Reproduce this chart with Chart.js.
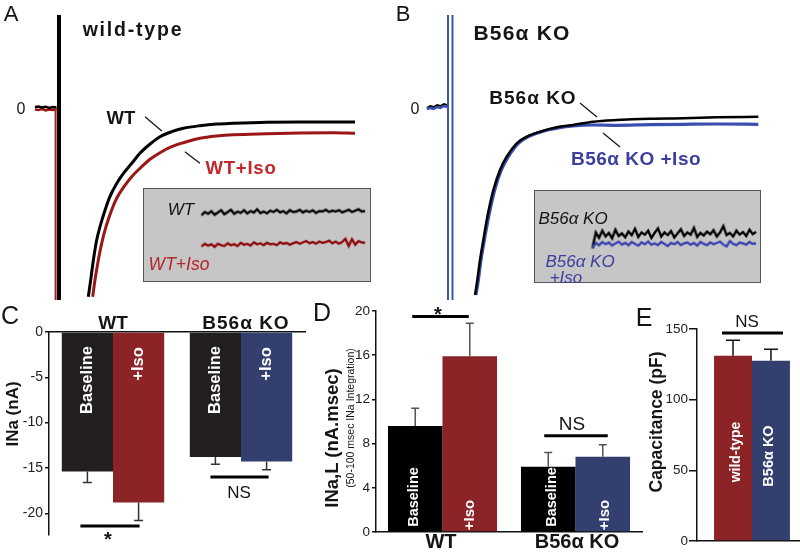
<!DOCTYPE html>
<html><head><meta charset="utf-8">
<script src="https://cdn.jsdelivr.net/npm/chart.js@4/dist/chart.umd.min.js"></script>
<style>
html,body{margin:0;padding:0;background:#fff;width:800px;height:552px;overflow:hidden;position:relative;font-family:"Liberation Sans",Arial,sans-serif;}
canvas{position:absolute;}
.inset{background:#c6c6c6;border:1px solid #555;}
.t{position:absolute;transform:translate(-50%,-50%);white-space:nowrap;line-height:1;color:#151515;}
.rt{position:absolute;transform:translate(-50%,-50%) rotate(-90deg);white-space:nowrap;line-height:1;}
.b{font-weight:bold;}
.i{font-style:italic;}
.w{color:#fff;font-weight:bold;}
</style></head><body>
<canvas id="cA" width="400" height="300" style="left:0;top:0"></canvas>
<canvas id="cB" width="400" height="300" style="left:400px;top:0"></canvas>
<canvas id="cAi" class="inset" width="228" height="94" style="left:143px;top:188px"></canvas>
<canvas id="cBi" class="inset" width="227" height="93" style="left:534px;top:190px"></canvas>
<canvas id="cC" width="310" height="252" style="left:0;top:300px"></canvas>
<canvas id="cD" width="345" height="252" style="left:300px;top:300px"></canvas>
<canvas id="cE" width="210" height="252" style="left:600px;top:300px"></canvas>

<!-- Panel A text -->
<div class="t" style="left:11px;top:14px;font-size:22px">A</div>
<div class="t b" style="left:133px;top:30px;font-size:19.5px;letter-spacing:1.8px">wild-type</div>
<div class="t" style="left:21px;top:109px;font-size:16px">0</div>
<div class="t b" style="left:121px;top:118px;font-size:18.5px">WT</div>
<div class="t b" style="left:241px;top:168px;font-size:18.5px;letter-spacing:0.8px;color:#c1272d">WT+Iso</div>
<div class="t i" style="left:181px;top:209px;font-size:17px">WT</div>
<div class="t i" style="left:179px;top:265px;font-size:17.5px;color:#b3262b">WT+Iso</div>
<!-- Panel B text -->
<div class="t" style="left:403px;top:14px;font-size:22px">B</div>
<div class="t b" style="left:522px;top:32px;font-size:21px;letter-spacing:1.2px">B56α KO</div>
<div class="t" style="left:415px;top:109px;font-size:16px">0</div>
<div class="t b" style="left:533px;top:97px;font-size:19px;letter-spacing:1px">B56α KO</div>
<div class="t b" style="left:636px;top:158px;font-size:19px;letter-spacing:0.5px;color:#3d3f9e">B56α KO +Iso</div>
<div class="t i" style="left:573px;top:218px;font-size:17px">B56α KO</div>
<div class="t i" style="left:580px;top:261px;font-size:17px;color:#3d3f9e">B56α KO</div>
<div class="t i" style="left:566px;top:277px;font-size:17px;color:#3d3f9e">+Iso</div>
<!-- Panel C text -->
<div class="t" style="left:10px;top:315px;font-size:25px">C</div>
<div class="t b" style="left:113px;top:322px;font-size:19px">WT</div>
<div class="t b" style="left:246px;top:322px;font-size:19px;letter-spacing:1px">B56α KO</div>
<div class="rt b" style="left:12px;top:414px;font-size:17px;color:#151515">INa (nA)</div>
<div class="rt w" style="left:86px;top:380px;font-size:16.5px">Baseline</div>
<div class="rt w" style="left:137px;top:364px;font-size:16.5px">+Iso</div>
<div class="rt w" style="left:214px;top:380px;font-size:16.5px">Baseline</div>
<div class="rt w" style="left:265px;top:364px;font-size:16.5px">+Iso</div>
<div class="t b" style="left:108px;top:539px;font-size:20px">*</div>
<div class="t" style="left:239px;top:492px;font-size:17px">NS</div>
<!-- Panel D text -->
<div class="t" style="left:322px;top:312px;font-size:25px">D</div>
<div class="t b" style="left:438px;top:314px;font-size:20px">*</div>
<div class="t" style="left:572px;top:423px;font-size:19px">NS</div>
<div class="t b" style="left:441px;top:541px;font-size:20px">WT</div>
<div class="t b" style="left:577px;top:541px;font-size:20px">B56α KO</div>
<div class="rt b" style="left:332px;top:438px;font-size:18.5px;color:#151515">INa,L (nA.msec)</div>
<div class="rt" style="left:350px;top:418px;font-size:10.5px;color:#151515">(50-100 msec INa Integration)</div>
<div class="rt w" style="left:413px;top:497px;font-size:14.5px">Baseline</div>
<div class="rt w" style="left:468px;top:515px;font-size:15px">+Iso</div>
<div class="rt w" style="left:551px;top:497px;font-size:14.5px">Baseline</div>
<div class="rt w" style="left:603px;top:515px;font-size:15px">+Iso</div>
<!-- Panel E text -->
<div class="t" style="left:644px;top:317px;font-size:25px">E</div>
<div class="t" style="left:747px;top:321px;font-size:17px">NS</div>
<div class="rt b" style="left:657px;top:422px;font-size:17.5px;color:#151515">Capacitance (pF)</div>
<div class="rt w" style="left:735px;top:452px;font-size:14px">wild-type</div>
<div class="rt w" style="left:768px;top:456px;font-size:14.5px">B56α KO</div>

<script>
const FONT = '"Liberation Sans", Arial, sans-serif';

// ---------- Panel A traces (time ms, current a.u.) ----------
const aPreTime = [-7.7, -6.5, -5.3, -4.1, -2.9, -1.7, -0.5];
const aPreWT   = [0.1, 0.15, 0.05, 0.12, 0.0, 0.1, 0.05];
const aPreIso  = [-0.15, -0.2, -0.1, -0.25, -0.15, -0.2, -0.15];
const aTimeWT  = [10.1, 10.9, 11.8, 12.9, 14.0, 15.7, 17.3, 19.6, 21.8, 24.6, 27.3, 30.7, 34.0, 37.9, 41.8, 47.3, 52.9, 58.4, 69.6, 80.7, 91.8, 99.0];
const aWT      = [-18.87, -17.2, -15.2, -13.2, -11.87, -10.2, -8.87, -7.53, -6.53, -5.53, -4.53, -3.6, -2.87, -2.37, -2.03, -1.77, -1.6, -1.53, -1.43, -1.4, -1.4, -1.4];
const aTimeIso = [11.56, 12.33, 13.44, 14.56, 16.0, 17.67, 19.56, 22.0, 24.56, 27.33, 30.67, 34.0, 37.89, 41.78, 47.33, 52.89, 58.44, 69.56, 80.67, 91.78, 99.0];
const aIso     = [-18.87, -17.2, -15.2, -13.53, -11.87, -10.37, -9.03, -7.87, -6.87, -6.03, -5.13, -4.47, -3.87, -3.47, -3.03, -2.8, -2.67, -2.57, -2.5, -2.47, -2.53];

// ---------- Panel B traces ----------
const bPreTime = [-7.5, -6.4, -5.3, -4.2, -3.1, -2.0, -1.0];
const bPreKO   = [-0.1, 0.1, 0.0, 0.2, 0.1, 0.3, 0.2];
const bPreIso  = [-0.2, -0.1, -0.2, 0.0, -0.1, 0.1, 0.0];
const bTimeKO  = [8.12, 8.87, 9.74, 10.82, 12.12, 14.07, 16.23, 18.4, 21.65, 24.9, 29.2, 34.6, 40.0, 46.5, 54.1, 64.9, 75.8, 86.6, 100.1];
const bKO      = [-18.8, -17.3, -15.3, -13.3, -10.97, -8.3, -6.3, -4.97, -3.63, -2.97, -2.47, -2.03, -1.8, -1.47, -1.3, -1.17, -1.13, -1.03, -0.97];
const bTimeIso = [8.44, 9.2, 10.06, 11.15, 12.55, 14.5, 16.67, 18.94, 22.19, 25.43, 29.76, 35.17, 40.0, 46.5, 54.1, 64.9, 75.8, 86.6, 100.1];
const bIso     = [-18.8, -17.3, -15.3, -13.3, -10.97, -8.3, -6.3, -4.97, -3.63, -2.97, -2.47, -2.1, -1.9, -1.8, -1.83, -1.77, -1.73, -1.7, -1.73];

// ---------- Insets (50-100 ms, amplified) ----------
const insetTime = [50,51,52,53,54,55,56,57,58,59,60,61,62,63,64,65,66,67,68,69,70,71,72,73,74,75,76,77,78,79,80,81,82,83,84,85,86,87,88,89,90,91,92,93,94,95,96,97,98,99,100];
const aInsetWT  = [4.3,5.0,4.6,5.2,4.4,4.9,5.4,4.5,5.0,5.5, 4.6,5.1,4.8,5.4,4.7,5.2,4.9,5.6,4.8,5.1, 4.7,5.3,5.0,5.5,4.9,5.2,4.7,5.4,5.0,5.1, 5.5,4.9,5.3,5.0,5.4,4.8,5.2,5.1,5.5,5.0, 5.3,5.1,5.4,4.9,5.2,5.5,5.0,5.3,5.6,5.1, 5.2];
const aInsetIso = [-2.5,-1.9,-2.3,-2.0,-2.6,-1.9,-2.2,-2.4,-1.8,-2.2, -2.0,-2.4,-1.7,-2.1,-1.9,-2.3,-1.6,-2.0,-1.8,-2.2, -1.7,-2.0,-1.9,-2.2,-1.6,-1.9,-1.7,-2.1,-1.8,-1.5, -1.9,-1.6,-1.3,-1.8,-1.5,-1.9,-1.4,-1.7,-1.5,-1.2, -1.8,-1.4,-1.9,-1.5,-0.8,-2.4,-0.9,-2.1,-1.3,-1.6, -1.7];
const bInsetKO  = [-2.6,0.9,-0.3,1.3,0.0,0.8,-0.4,1.5,0.1,0.7, -0.2,1.1,0.3,1.7,-0.1,0.9,0.4,1.3,-0.3,0.8, 1.8,0.0,0.9,0.3,1.2,-0.2,0.7,1.6,0.1,0.9, 0.4,1.9,-0.1,0.8,0.2,1.1,0.5,1.4,0.0,0.9, 2.3,0.3,0.8,0.0,1.3,0.4,1.0,0.1,1.5,0.5, 1.0];
const bInsetIso = [-2.6,-1.4,-1.9,-1.2,-1.7,-1.3,-2.0,-1.5,-1.1,-1.8, -1.4,-1.9,-1.2,-1.6,-2.0,-1.3,-1.7,-1.1,-1.8,-1.5, -1.9,-1.2,-1.6,-2.1,-1.4,-1.7,-1.2,-1.9,-1.5,-1.3, -1.8,-1.4,-2.0,-1.2,-1.6,-1.9,-1.3,-1.7,-1.4,-1.1, -1.8,-2.2,-1.0,-1.6,-1.9,-1.3,-1.5,-1.8,-1.2,-1.6, -1.5];

// ---------- Panel C: peak INa (nA) ----------
const cGroups   = ['WT', 'B56α KO'];
const cBaseline = [-15.4, -13.8];
const cIso      = [-18.8, -14.3];
const cBaseErr  = [1.2, 0.8];
const cIsoErr   = [2.0, 0.9];
const cTicks    = [0, -5, -10, -15, -20];

// ---------- Panel D: late INa (nA.msec) ----------
const dGroups   = ['WT', 'B56α KO'];
const dBaseline = [9.6, 5.9];
const dIso      = [15.9, 6.8];
const dBaseErr  = [1.6, 1.3];
const dIsoErr   = [3.0, 1.1];
const dTicks    = [0, 4, 8, 12, 16, 20];

// ---------- Panel E: capacitance (pF) ----------
const eGroups   = ['wild-type', 'B56α KO'];
const eValues   = [131, 127.6];
const eErr      = [11, 8.1];
const eTicks    = [0, 50, 100, 150];

const RED = '#8b2327', BLUE = '#333f6e', BLK = '#231f20';

const pts = (xs, ys) => xs.map((x, i) => ({x, y: ys[i]}));

const leaderPlugin = {
  id: 'leaders',
  afterDatasetsDraw(chart, args, opts) {
    const {ctx, scales: {x, y}} = chart;
    ctx.save(); ctx.strokeStyle = '#111'; ctx.lineWidth = 1.2;
    (opts.lines || []).forEach(l => {
      ctx.beginPath();
      ctx.moveTo(x.getPixelForValue(l[0]), y.getPixelForValue(l[1]));
      ctx.lineTo(x.getPixelForValue(l[2]), y.getPixelForValue(l[3]));
      ctx.stroke();
    });
    ctx.restore();
  }
};

function traceChart(id, xr, yr, datasets, lines) {
  return new Chart(document.getElementById(id), {
    type: 'line',
    data: {datasets},
    options: {
      responsive: false, animation: false, events: [],
      layout: {padding: 0},
      plugins: {legend: {display: false}, tooltip: {enabled: false}, leaders: {lines: lines || []}},
      scales: {
        x: {type: 'linear', display: false, min: xr[0], max: xr[1]},
        y: {type: 'linear', display: false, min: yr[0], max: yr[1]}
      },
      elements: {point: {radius: 0}}
    },
    plugins: [leaderPlugin]
  });
}
const ln = (data, color, width, order, smooth) => ({
  data, borderColor: color, borderWidth: width, order, pointRadius: 0,
  tension: 0, cubicInterpolationMode: smooth ? 'monotone' : 'default', fill: false
});

// Panel A
traceChart('cA', [-58/3, 342/3], [-19.2, 10.8], [
  ln(pts([-0.8, -0.8], [0, -19.5]), '#b01c1c', 2, 3),
  ln(pts([0.33, 0.33], [9.3, -19.5]), '#000', 4, 2),
  ln(pts(aPreTime, aPreIso), '#a01616', 2.5, 5),
  ln(pts(aPreTime, aPreWT), '#000', 2.5, 4),
  ln(pts(aTimeIso, aIso), '#9b1616', 3, 1, true),
  ln(pts(aTimeWT, aWT), '#000', 3, 0, true)
], [[29, -0.87, 34.6, -2.3], [42.3, -4.37, 47.3, -5.53]]);

// Panel B
traceChart('cB', [-50/3.08, 350/3.08], [-19.3, 10.7], [
  ln(pts([-0.65, -0.65], [9.2, -19.5]), '#3a55b0', 2, 2),
  ln(pts([0.81, 0.81], [9.2, -19.5]), '#3a55b0', 2, 2),
  ln(pts(bPreTime, bPreKO), '#000', 2, 4),
  ln(pts(bPreTime, bPreIso), '#3a4fb0', 2.5, 3),
  ln(pts(bTimeIso, bIso), '#3a4fb0', 3.2, 1, true),
  ln(pts(bTimeKO, bKO), '#000', 2.5, 0, true)
], [[42.2, 0.4, 47.7, -1.0], [49.7, -2.6, 55.2, -4.0]]);

// Insets
traceChart('cAi', [50 - 58/3.3, 50 + 170/3.3], [-10, 10], [
  ln(pts(insetTime, aInsetIso), '#8e0a0a', 2.4, 1),
  ln(pts(insetTime, aInsetWT), '#000', 2.4, 0)
]);
traceChart('cBi', [50 - 58/3.3, 50 + 169/3.3], [-10, 10], [
  ln(pts(insetTime, bInsetKO), '#000', 2.4, 1),
  ln(pts(insetTime, bInsetIso), '#3a45b0', 2.4, 0)
]);

// ---------- Bar charts ----------
const errPlugin = {
  id: 'errbars',
  afterDatasetsDraw(chart, args, opts) {
    const ctx = chart.ctx, ys = chart.scales.y;
    ctx.save();
    ctx.strokeStyle = opts.color; ctx.lineWidth = opts.width;
    chart.data.datasets.forEach((ds, di) => {
      chart.getDatasetMeta(di).data.forEach((bar, i) => {
        const v = ds.data[i], e = ds.err[i];
        const y0 = ys.getPixelForValue(v), y1 = ys.getPixelForValue(v + Math.sign(v) * e);
        ctx.beginPath();
        ctx.moveTo(bar.x, y0); ctx.lineTo(bar.x, y1);
        ctx.moveTo(bar.x - opts.cap / 2, y1); ctx.lineTo(bar.x + opts.cap / 2, y1);
        ctx.stroke();
      });
    });
    ctx.strokeStyle = '#000'; ctx.lineWidth = 3;
    (opts.sig || []).forEach(s => {
      const a = chart.getDatasetMeta(s.a[0]).data[s.a[1]];
      const b = chart.getDatasetMeta(s.b[0]).data[s.b[1]];
      const y = ys.getPixelForValue(s.value);
      ctx.beginPath(); ctx.moveTo(a.x + s.dx[0], y); ctx.lineTo(b.x + s.dx[1], y); ctx.stroke();
    });
    ctx.restore();
  }
};

function barChart(id, o) {
  return new Chart(document.getElementById(id), {
    type: 'bar',
    data: {labels: o.labels, datasets: o.datasets},
    options: {
      responsive: false, animation: false, events: [],
      layout: {padding: o.padding},
      datasets: {bar: {categoryPercentage: o.cat, barPercentage: 1}},
      plugins: {legend: {display: false}, tooltip: {enabled: false}, errbars: o.err},
      scales: {
        x: {position: o.xpos, ticks: {display: false}, grid: {display: false},
            border: {display: true, color: '#111', width: 1.5},
            afterFit(s) { s.height = 0; }},
        y: {min: o.min, max: o.max,
            afterBuildTicks(s) { s.ticks = o.ticks.map(v => ({value: v})); },
            ticks: {color: '#222', padding: o.tpad, font: {family: FONT, size: o.tsize}},
            grid: {drawOnChartArea: false, drawTicks: true, tickLength: o.tl, color: '#111', lineWidth: 1.5},
            border: {display: true, color: '#111', width: 1.5},
            afterFit(s) { s.width = o.yw; }}
      }
    },
    plugins: [errPlugin]
  });
}

barChart('cC', {
  labels: cGroups,
  datasets: [
    {data: cBaseline, err: cBaseErr, backgroundColor: [BLK, BLK]},
    {data: cIso, err: cIsoErr, backgroundColor: [RED, BLUE]}
  ],
  padding: {top: 32, right: 5, bottom: 17, left: 0}, cat: 0.8, xpos: 'top',
  min: -22.4, max: 0, ticks: cTicks, tpad: 2, tsize: 14, tl: 4, yw: 49,
  err: {color: '#333', width: 1.5, cap: 9,
        sig: [{a: [0, 0], b: [1, 0], value: -21.4, dx: [-7, 1]},
              {a: [0, 1], b: [1, 1], value: -16.0, dx: [-5, 2]}]}
});

barChart('cD', {
  labels: dGroups,
  datasets: [
    {data: dBaseline, err: dBaseErr, backgroundColor: ['#000', '#000']},
    {data: dIso, err: dIsoErr, backgroundColor: [RED, BLUE]}
  ],
  padding: {top: 11, right: 3, bottom: 20, left: 0}, cat: 0.82, xpos: 'bottom',
  min: 0, max: 20, ticks: dTicks, tpad: 2, tsize: 13.5, tl: 4, yw: 76,
  err: {color: '#555', width: 1.5, cap: 8,
        sig: [{a: [0, 0], b: [1, 0], value: 19.5, dx: [-3, -1]},
              {a: [0, 1], b: [1, 1], value: 8.7, dx: [-4, 5]}]}
});

barChart('cE', {
  labels: [''],
  datasets: [
    {data: [eValues[0]], err: [eErr[0]], backgroundColor: RED, label: eGroups[0]},
    {data: [eValues[1]], err: [eErr[1]], backgroundColor: BLUE, label: eGroups[1]}
  ],
  padding: {top: 29, right: 3, bottom: 11, left: 0}, cat: 0.69, xpos: 'bottom',
  min: 0, max: 150, ticks: eTicks, tpad: 1, tsize: 13.5, tl: 8, yw: 97,
  err: {color: '#111', width: 1.5, cap: 14,
        sig: [{a: [0, 0], b: [1, 0], value: 147.2, dx: [-11, 12]}]}
});
</script>
</body></html>
